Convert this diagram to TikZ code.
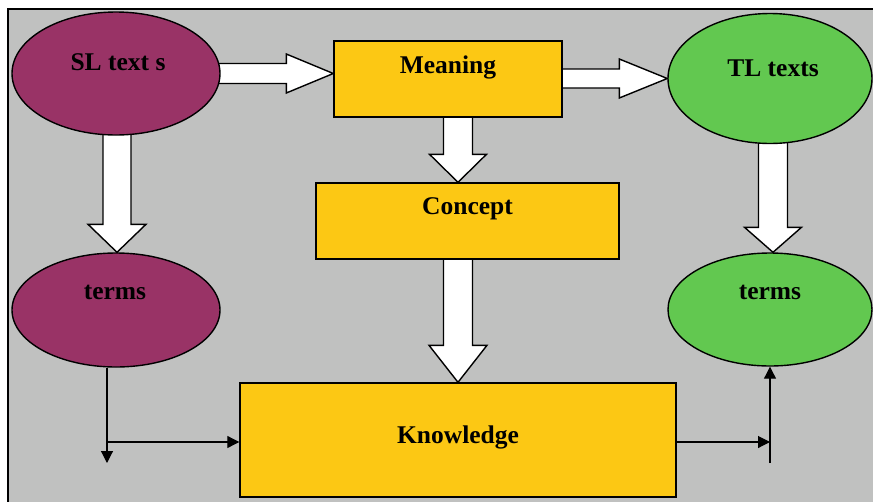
\documentclass[tikz,border=0pt]{standalone}
\usepackage{fontspec}
\setmainfont{Liberation Serif}
\usetikzlibrary{shapes.geometric,arrows.meta,calc}

\definecolor{panelgray}{RGB}{192,193,192}
\definecolor{plum}{RGB}{153,51,102}
\definecolor{gold}{RGB}{252,200,20}
\definecolor{leaf}{RGB}{98,200,80}

\pgfdeclarelayer{back}
\pgfdeclarelayer{arr}
\pgfsetlayers{back,arr,main}

% wide hollow arrows: #1 start, #2 tip, #3 half shaft, #4 half head, #5 head length
\newcommand\hblock[5]{%
  \path[blockarrow] let \p1=(#1), \p2=(#2) in
    (\x1,\y2+#3) -- (\x2-#5,\y2+#3) -- (\x2-#5,\y2+#4) -- (\x2,\y2)
    -- (\x2-#5,\y2-#4) -- (\x2-#5,\y2-#3) -- (\x1,\y2-#3) -- cycle;}
\newcommand\vblock[5]{%
  \path[blockarrow] let \p1=(#1), \p2=(#2) in
    (\x2-#3,\y1) -- (\x2-#3,\y2+#5) -- (\x2-#4,\y2+#5) -- (\x2,\y2)
    -- (\x2+#4,\y2+#5) -- (\x2+#3,\y2+#5) -- (\x2+#3,\y1) -- cycle;}

\tikzset{
  blockarrow/.style={fill=white, draw=black, line width=1.4pt, line join=miter},
  oval/.style={ellipse, draw=black, line width=1.4pt, inner sep=0pt},
  box/.style={rectangle, draw=black, line width=1.4pt, fill=gold, inner sep=0pt},
  lbl/.style={font=\fontsize{25.5}{29}\selectfont\bfseries, inner sep=0pt},
  link/.style={draw=black, line width=1.1pt, -{Triangle[length=12pt,width=12pt]}},
}

\begin{document}
\begin{tikzpicture}[x=1pt,y=-1pt]
\useasboundingbox (0,0) rectangle (873,501);

\begin{pgfonlayer}{back}
  \draw[fill=panelgray, draw=black, line width=1.4pt] (8,9) rectangle (885,515);
\end{pgfonlayer}

% shapes
\node[oval, fill=plum, minimum width=208pt, minimum height=123pt] (sl) at (116,73.5) {};
\node[box, minimum width=228pt, minimum height=76pt] (meaning) at (448,79) {};
\node[oval, fill=leaf, minimum width=204pt, minimum height=130pt] (tl) at (770,78.5) {};
\node[box, minimum width=303pt, minimum height=76pt] (concept) at (467.5,221) {};
\node[oval, fill=plum, minimum width=208pt, minimum height=114pt] (termsL) at (116,310) {};
\node[oval, fill=leaf, minimum width=204pt, minimum height=113pt] (termsR) at (770,309.5) {};
\node[box, minimum width=436pt, minimum height=114pt] (kn) at (458,440) {};

% labels
\node[lbl] (tsl) at ($(sl)+(2,-11)$) {SL text s};
\node[lbl] (tmeaning) at ($(meaning)+(0,-12)$) {Meaning};
\node[lbl] (ttl) at ($(tl)+(3,-10)$) {TL texts};
\node[lbl] (tconcept) at ($(concept)+(0,-12)$) {Concept};
\node[lbl] (ttermsL) at ($(termsL)+(-1,-18)$) {terms};
\node[lbl] (ttermsR) at ($(termsR)+(0,-17)$) {terms};
\node[lbl] (tkn) at ($(kn)+(0,-3)$) {Knowledge};

% hollow arrows
\begin{pgfonlayer}{arr}
  \hblock{$(sl.east)+(-6,0)$}{meaning.west |- sl.east}{10pt}{19.5pt}{47pt}
  \hblock{$(meaning.east)+(-4,0)$}{tl.west}{9.5pt}{19.5pt}{48pt}
  \vblock{$(sl.south)+(0,-6)$}{$(termsL.north)+(1,0)$}{14pt}{29pt}{28pt}
  \vblock{$(tl.south)+(0,-6)$}{$(termsR.north)+(3,0)$}{14.5pt}{28.5pt}{25pt}
  \vblock{$(meaning.south)+(0,-4)$}{concept.north -| kn.north}{14.5pt}{28.5pt}{28pt}
  \vblock{$(concept.south)+(0,-4)$}{kn.north}{14.5pt}{29pt}{37pt}
\end{pgfonlayer}

% thin connectors around Knowledge
\coordinate (jl) at (107,442);
\coordinate (endl) at (107,463);
\coordinate (jr) at (770,442);
\coordinate (endr) at (770,463);
\draw[link] (termsL.south -| jl) -- (endl);
\draw[link] (jl) -- (kn.west |- jl);
\draw[link] (kn.east |- jr) -- (jr);
\draw[link] (endr) -- (termsR.south);
\end{tikzpicture}
\end{document}
